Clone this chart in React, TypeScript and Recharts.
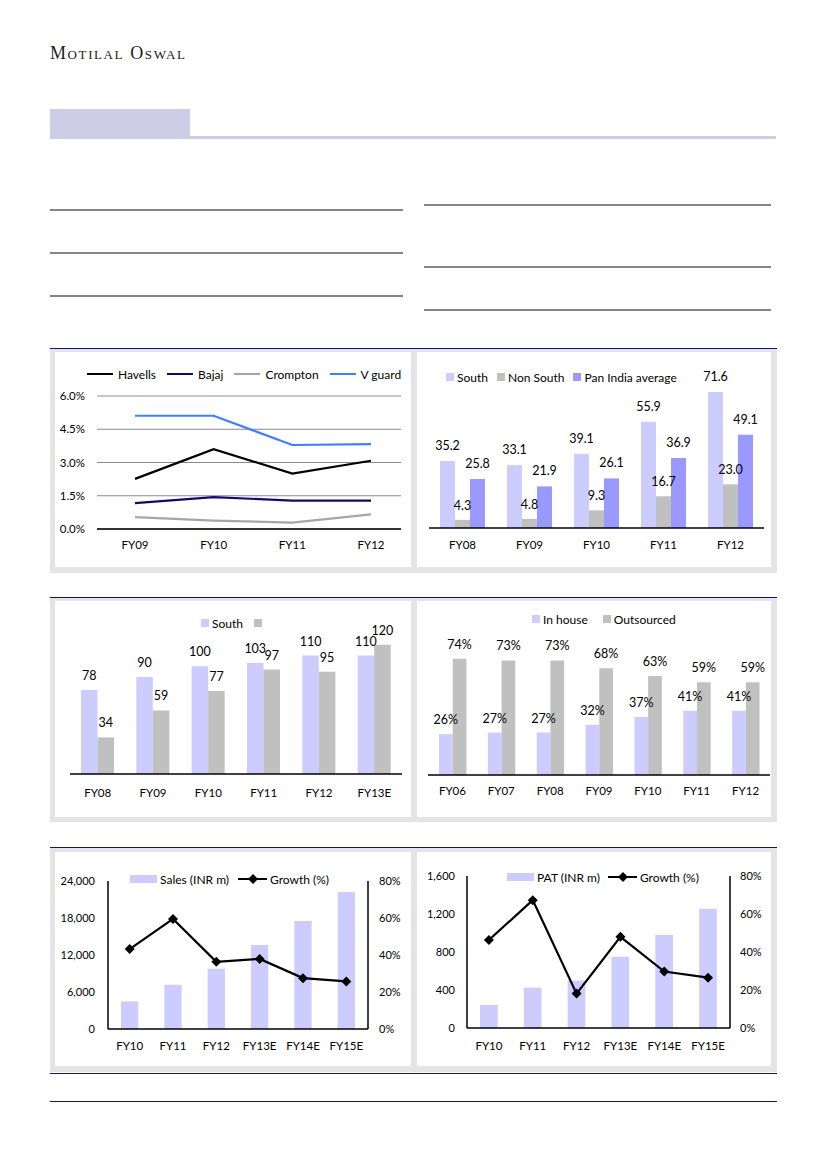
import React from "react";
import {
  LineChart,
  Line,
  BarChart,
  Bar,
  ComposedChart,
  XAxis,
  YAxis,
  CartesianGrid,
  LabelList,
} from "recharts";

const FONT = "Lato, 'Open Sans', sans-serif";
const NAVY = "#12127e";
const FRAME = "#e4e4e4";
const LILAC = "#ccccff";
const GREY_BAR = "#c0c0c0";
const PURPLE = "#9999ff";

// margin chart (ad spend % of sales)
const marginYears = ["FY09", "FY10", "FY11", "FY12"];
const havells = [2.26, 3.6, 2.5, 3.08];
const bajaj = [1.17, 1.44, 1.28, 1.28];
const crompton = [0.54, 0.38, 0.29, 0.66];
const vguard = [5.11, 5.11, 3.79, 3.83];
const marginTicks = [0, 1.5, 3, 4.5, 6];

// south vs non south
const regionYears = ["FY08", "FY09", "FY10", "FY11", "FY12"];
const south = [35.2, 33.1, 39.1, 55.9, 71.6];
const nonSouth = [4.3, 4.8, 9.3, 16.7, 23.0];
const panIndia = [25.8, 21.9, 26.1, 36.9, 49.1];

// two-bar chart
const capYears = ["FY08", "FY09", "FY10", "FY11", "FY12", "FY13E"];
const capSouth = [78, 90, 100, 103, 110, 110];
const capOther = [34, 59, 77, 97, 95, 120];

// in house vs outsourced
const srcYears = ["FY06", "FY07", "FY08", "FY09", "FY10", "FY11", "FY12"];
const inHouse = [26, 27, 27, 32, 37, 41, 41];
const outsourced = [74, 73, 73, 68, 63, 59, 59];

// sales / PAT
const finYears = ["FY10", "FY11", "FY12", "FY13E", "FY14E", "FY15E"];
const sales = [4480, 7170, 9760, 13640, 17530, 22220];
const salesGrowth = [43.2, 59.5, 36.3, 37.9, 27.5, 25.7];
const salesTicks = [0, 6000, 12000, 18000, 24000];
const pat = [244, 425, 499, 750, 978, 1254];
const patGrowth = [46.3, 67.3, 18.1, 48.0, 29.7, 26.5];
const patTicks = [0, 400, 800, 1200, 1600];
const pctTicks = [0, 20, 40, 60, 80];

const marginData = marginYears.map((year, i) => ({
  year,
  havells: havells[i],
  bajaj: bajaj[i],
  crompton: crompton[i],
  vguard: vguard[i],
}));
const regionData = regionYears.map((year, i) => ({
  year,
  south: south[i],
  nonSouth: nonSouth[i],
  panIndia: panIndia[i],
}));
const capData = capYears.map((year, i) => ({ year, south: capSouth[i], other: capOther[i] }));
const srcData = srcYears.map((year, i) => ({ year, inHouse: inHouse[i], outsourced: outsourced[i] }));
const salesData = finYears.map((year, i) => ({ year, value: sales[i], growth: salesGrowth[i] }));
const patData = finYears.map((year, i) => ({ year, value: pat[i], growth: patGrowth[i] }));

type Key = { label: string; color: string; kind: "line" | "square" | "rect" | "marker" };

const Swatch = ({ k }: { k: Key }) => {
  if (k.kind === "line")
    return <span style={{ width: 26, height: 2.5, background: k.color, marginRight: 5, display: "inline-block" }} />;
  if (k.kind === "square")
    return <span style={{ width: 8, height: 8, background: k.color, marginRight: 3, display: "inline-block" }} />;
  if (k.kind === "rect")
    return <span style={{ width: 27, height: 8, background: k.color, marginRight: 3, display: "inline-block" }} />;
  return (
    <svg width={29} height={10} style={{ marginRight: 3 }}>
      <line x1={0} y1={5} x2={29} y2={5} stroke={k.color} strokeWidth={2} />
      <polygon points="15,0 20,5 15,10 10,5" fill={k.color} />
    </svg>
  );
};

const LegendRow = ({ keys, gap, left, top, size = 12 }: { keys: Key[]; gap: number; left: number; top: number; size?: number }) => (
  <div
    style={{
      position: "absolute",
      left,
      top,
      height: 14,
      display: "flex",
      alignItems: "center",
      gap,
      fontFamily: FONT,
      fontSize: size,
      color: "#000",
      whiteSpace: "nowrap",
      zIndex: 2,
    }}
  >
    {keys.map((k, i) => (
      <div key={i} style={{ display: "flex", alignItems: "center", height: 14 }}>
        <Swatch k={k} />
        <span>{k.label}</span>
      </div>
    ))}
  </div>
);

const Diamond = (props: any) => {
  const { cx, cy, index } = props;
  if (cx == null || cy == null) return <g key={index} />;
  const r = 5;
  return (
    <polygon
      key={index}
      points={`${cx},${cy - r} ${cx + r},${cy} ${cx},${cy + r} ${cx - r},${cy}`}
      fill="#000"
    />
  );
};

const tickStyle = (size: number) => ({ fill: "#000", fontSize: size, fontFamily: FONT });
const labelStyle = { fill: "#000", fontSize: 12.5, fontFamily: FONT };

const Panel = ({ left, top, width, height, children }: any) => (
  <div style={{ position: "absolute", left, top, width, height, background: "#fff" }}>{children}</div>
);

const hline = (top: number, left: number, width: number, color: string, h = 1.5) => (
  <div style={{ position: "absolute", top, left, width, height: h, background: color }} />
);

export default function App() {
  return (
    <div style={{ position: "absolute", left: 0, top: 0, width: 826, height: 1169, background: "#fff", overflow: "hidden" }}>
      <div
        style={{
          position: "absolute",
          left: 50,
          top: 43,
          fontFamily: "'Liberation Serif', serif",
          fontSize: 18,
          fontVariant: "small-caps",
          letterSpacing: 1.6,
          color: "#222",
        }}
      >
        Motilal Oswal
      </div>

      <div style={{ position: "absolute", left: 50, top: 109, width: 140, height: 28, background: "#cfcde6" }} />
      {hline(136, 50, 726, "#cfcde6", 3)}

      {hline(209, 50, 353, "#858585")}
      {hline(252, 50, 353, "#858585")}
      {hline(295, 50, 353, "#858585")}
      {hline(204, 424, 347, "#858585")}
      {hline(266, 424, 347, "#858585")}
      {hline(309, 424, 347, "#858585")}

      {/* grey frames */}
      <div style={{ position: "absolute", left: 50, top: 349, width: 727, height: 224, background: FRAME }} />
      <div style={{ position: "absolute", left: 50, top: 598, width: 727, height: 224, background: FRAME }} />
      <div style={{ position: "absolute", left: 50, top: 848, width: 727, height: 224, background: FRAME }} />
      {hline(347.5, 50, 727, NAVY)}
      {hline(596.5, 50, 727, NAVY)}
      {hline(846.5, 50, 727, NAVY)}
      {hline(1072.5, 50, 727, NAVY)}
      {hline(1100.5, 50, 727, NAVY)}

      {/* row 1 left */}
      <Panel left={55} top={352} width={356} height={215}>
        <LegendRow
          left={32}
          top={15}
          gap={11}
          keys={[
            { label: "Havells", color: "#000", kind: "line" },
            { label: "Bajaj", color: "#14086e", kind: "line" },
            { label: "Crompton", color: "#a6a6a6", kind: "line" },
            { label: "V guard", color: "#3f7fff", kind: "line" },
          ]}
        />
        <LineChart width={356} height={215} data={marginData} margin={{ top: 44, right: 10, left: 0, bottom: 8 }}>
          <CartesianGrid vertical={false} stroke="#8a8a8a" strokeWidth={1} />
          <XAxis
            dataKey="year"
            padding={{ left: 38, right: 30 }}
            axisLine={{ stroke: "#000", strokeWidth: 1.5 }}
            tickLine={false}
            tickSize={0}
            tickMargin={12}
            height={30}
            tick={tickStyle(11.5)}
            interval={0}
          />
          <YAxis
            domain={[0, 6]}
            ticks={marginTicks}
            tickFormatter={(v: number) => `${v.toFixed(1)}%`}
            axisLine={false}
            tickLine={false}
            tickSize={0}
            tickMargin={12}
            width={42}
            tick={tickStyle(11.5)}
          />
          <Line dataKey="crompton" stroke="#a6a6a6" strokeWidth={2.2} dot={false} isAnimationActive={false} />
          <Line dataKey="bajaj" stroke="#14086e" strokeWidth={2.2} dot={false} isAnimationActive={false} />
          <Line dataKey="havells" stroke="#000" strokeWidth={2.2} dot={false} isAnimationActive={false} />
          <Line dataKey="vguard" stroke="#3f7fff" strokeWidth={2.2} dot={false} isAnimationActive={false} />
        </LineChart>
      </Panel>

      {/* row 1 right */}
      <Panel left={417} top={352} width={354} height={215}>
        <LegendRow
          left={29}
          top={18}
          gap={9}
          keys={[
            { label: "South", color: LILAC, kind: "square" },
            { label: "Non South", color: GREY_BAR, kind: "square" },
            { label: "Pan India average", color: PURPLE, kind: "square" },
          ]}
        />
        <BarChart width={354} height={215} data={regionData} margin={{ top: 24, right: 7, left: 12, bottom: 9 }} barGap={0} barSize={15}>
          <XAxis
            dataKey="year"
            axisLine={{ stroke: "#000", strokeWidth: 1.5 }}
            tickLine={false}
            tickSize={0}
            tickMargin={12.5}
            height={30}
            tick={tickStyle(11.5)}
            interval={0}
          />
          <YAxis hide domain={[0, 80]} />
          <Bar dataKey="south" fill={LILAC} isAnimationActive={false}>
            <LabelList dataKey="south" position="top" offset={11} style={labelStyle} formatter={(v: any) => Number(v).toFixed(1)} />
          </Bar>
          <Bar dataKey="nonSouth" fill={GREY_BAR} isAnimationActive={false}>
            <LabelList dataKey="nonSouth" position="top" offset={10} style={labelStyle} formatter={(v: any) => Number(v).toFixed(1)} />
          </Bar>
          <Bar dataKey="panIndia" fill={PURPLE} isAnimationActive={false}>
            <LabelList dataKey="panIndia" position="top" offset={11} style={labelStyle} formatter={(v: any) => Number(v).toFixed(1)} />
          </Bar>
        </BarChart>
      </Panel>

      {/* row 2 left */}
      <Panel left={55} top={601} width={356} height={216}>
        <LegendRow
          left={146}
          top={15}
          gap={11}
          keys={[
            { label: "South", color: LILAC, kind: "square" },
            { label: "", color: GREY_BAR, kind: "square" },
          ]}
        />
        <BarChart width={356} height={216} data={capData} margin={{ top: 33, right: 9, left: 15, bottom: 13 }} barGap={0} barSize={16.5}>
          <XAxis
            dataKey="year"
            axisLine={{ stroke: "#000", strokeWidth: 1.5 }}
            tickLine={false}
            tickSize={0}
            tickMargin={15}
            height={30}
            tick={tickStyle(11.5)}
            interval={0}
          />
          <YAxis hide domain={[0, 130]} />
          <Bar dataKey="south" fill={LILAC} isAnimationActive={false}>
            <LabelList dataKey="south" position="top" offset={10} style={labelStyle} />
          </Bar>
          <Bar dataKey="other" fill={GREY_BAR} isAnimationActive={false}>
            <LabelList dataKey="other" position="top" offset={10} style={labelStyle} />
          </Bar>
        </BarChart>
      </Panel>

      {/* row 2 right */}
      <Panel left={417} top={601} width={354} height={216}>
        <LegendRow
          left={115}
          top={11}
          gap={15}
          keys={[
            { label: "In house", color: LILAC, kind: "square" },
            { label: "Outsourced", color: GREY_BAR, kind: "square" },
          ]}
        />
        <BarChart width={354} height={216} data={srcData} margin={{ top: 17, right: 1, left: 11, bottom: 12 }} barGap={0} barSize={13.7}>
          <XAxis
            dataKey="year"
            axisLine={{ stroke: "#000", strokeWidth: 1.5 }}
            tickLine={false}
            tickSize={0}
            tickMargin={11.5}
            height={30}
            tick={tickStyle(11.5)}
            interval={0}
          />
          <YAxis hide domain={[0, 100]} />
          <Bar dataKey="inHouse" fill={LILAC} isAnimationActive={false}>
            <LabelList dataKey="inHouse" position="top" offset={10} style={labelStyle} formatter={(v: any) => `${v}%`} />
          </Bar>
          <Bar dataKey="outsourced" fill={GREY_BAR} isAnimationActive={false}>
            <LabelList dataKey="outsourced" position="top" offset={10} style={labelStyle} formatter={(v: any) => `${v}%`} />
          </Bar>
        </BarChart>
      </Panel>

      {/* row 3 left */}
      <Panel left={55} top={852} width={356} height={214}>
        <LegendRow
          left={75}
          top={20}
          gap={9}
          keys={[
            { label: "Sales (INR m)", color: LILAC, kind: "rect" },
            { label: "Growth (%)", color: "#000", kind: "marker" },
          ]}
        />
        <ComposedChart width={356} height={214} data={salesData} margin={{ top: 29, right: 0, left: 0, bottom: 7 }} barSize={17.3}>
          <XAxis
            dataKey="year"
            axisLine={{ stroke: "#000", strokeWidth: 1.5 }}
            tickLine={false}
            tickSize={0}
            tickMargin={12.5}
            height={30}
            tick={tickStyle(11.5)}
            interval={0}
          />
          <YAxis
            yAxisId="left"
            domain={[0, 24000]}
            ticks={salesTicks}
            tickFormatter={(v: number) => v.toLocaleString("en-US")}
            axisLine={{ stroke: "#000", strokeWidth: 1.5 }}
            tickLine={false}
            tickSize={0}
            tickMargin={13}
            width={53}
            tick={tickStyle(11)}
          />
          <YAxis
            yAxisId="right"
            orientation="right"
            domain={[0, 80]}
            ticks={pctTicks}
            tickFormatter={(v: number) => `${v}%`}
            axisLine={{ stroke: "#000", strokeWidth: 1.5 }}
            tickLine={false}
            tickSize={0}
            tickMargin={11}
            width={43}
            tick={tickStyle(11)}
          />
          <Bar yAxisId="left" dataKey="value" fill={LILAC} isAnimationActive={false} />
          <Line yAxisId="right" dataKey="growth" stroke="#000" strokeWidth={2.2} dot={<Diamond />} isAnimationActive={false} />
        </ComposedChart>
      </Panel>

      {/* row 3 right */}
      <Panel left={417} top={852} width={354} height={214}>
        <LegendRow
          left={90}
          top={18}
          gap={8}
          keys={[
            { label: "PAT (INR m)", color: LILAC, kind: "rect" },
            { label: "Growth (%)", color: "#000", kind: "marker" },
          ]}
        />
        <ComposedChart width={354} height={214} data={patData} margin={{ top: 24, right: 0, left: 0, bottom: 8 }} barSize={17.7}>
          <XAxis
            dataKey="year"
            axisLine={{ stroke: "#000", strokeWidth: 1.5 }}
            tickLine={false}
            tickSize={0}
            tickMargin={13.5}
            height={30}
            tick={tickStyle(11.5)}
            interval={0}
          />
          <YAxis
            yAxisId="left"
            domain={[0, 1600]}
            ticks={patTicks}
            tickFormatter={(v: number) => v.toLocaleString("en-US")}
            axisLine={{ stroke: "#000", strokeWidth: 1.5 }}
            tickLine={false}
            tickSize={0}
            tickMargin={12}
            width={50}
            tick={tickStyle(11)}
          />
          <YAxis
            yAxisId="right"
            orientation="right"
            domain={[0, 80]}
            ticks={pctTicks}
            tickFormatter={(v: number) => `${v}%`}
            axisLine={{ stroke: "#000", strokeWidth: 1.5 }}
            tickLine={false}
            tickSize={0}
            tickMargin={10}
            width={41}
            tick={tickStyle(11)}
          />
          <Bar yAxisId="left" dataKey="value" fill={LILAC} isAnimationActive={false} />
          <Line yAxisId="right" dataKey="growth" stroke="#000" strokeWidth={2.2} dot={<Diamond />} isAnimationActive={false} />
        </ComposedChart>
      </Panel>
    </div>
  );
}
